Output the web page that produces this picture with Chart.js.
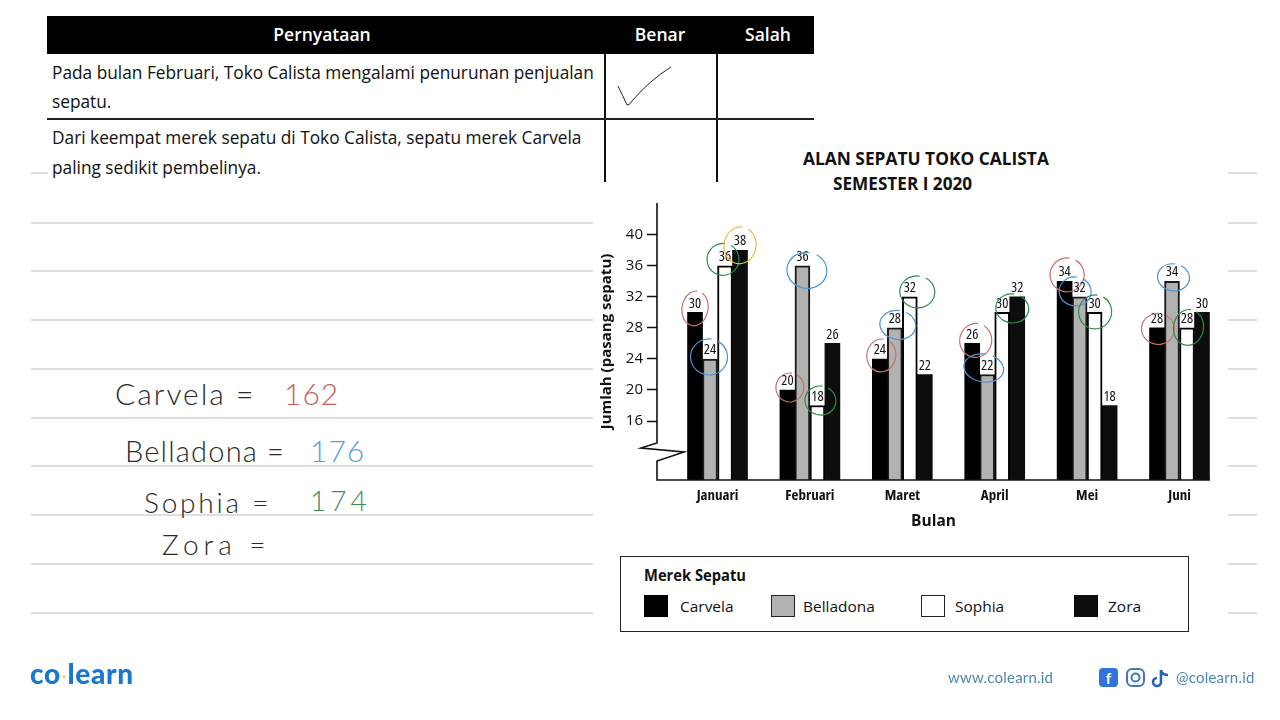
<!DOCTYPE html>
<html lang="id">
<head>
<meta charset="utf-8">
<title>Penjualan Sepatu Toko Calista</title>
<script src="https://cdn.jsdelivr.net/npm/chart.js@4"></script>
<style>
  html, body { margin: 0; padding: 0; background: #fff; }
  #page { position: relative; width: 1280px; height: 720px; overflow: hidden; font-family: "Open Sans", sans-serif; color: #111; }
  #page > canvas { position: absolute; left: 0; top: 0; }
  .t { position: absolute; white-space: nowrap; line-height: 1; }
  .rule { position: absolute; height: 1.5px; background: #dedede; }
  .hand { font-family: "Lato", sans-serif; font-weight: 300; color: #2a2a2a; }
  .body { font-size: 18px; transform-origin: left center; transform: scaleX(.96); }
  .head { color: #fff; font-weight: 600; font-size: 17.5px; transform: translateX(-50%); }
  .swatch { position: absolute; box-sizing: border-box; width: 24px; height: 22px; }
  #legendBox { position: absolute; left: 620px; top: 556px; width: 569px; height: 76px; box-sizing: border-box; border: 1.5px solid #222; }
</style>
</head>
<body>
<div id="page">
  <!-- lembar soal -->
  <div style="position:absolute;left:47px;top:16px;width:767px;height:38px;background:#000"></div>
  <div style="position:absolute;left:604px;top:54px;width:2px;height:128px;background:#111"></div>
  <div style="position:absolute;left:716px;top:54px;width:2px;height:128px;background:#111"></div>
  <div style="position:absolute;left:47px;top:118px;width:767px;height:2px;background:#222"></div>
  <div class="t head" style="left:322px;top:26px">Pernyataan</div>
  <div class="t head" style="left:660px;top:26px">Benar</div>
  <div class="t head" style="left:768px;top:26px">Salah</div>
  <div class="t body" style="left:52px;top:63px">Pada bulan Februari, Toko Calista mengalami penurunan penjualan</div>
  <div class="t body" style="left:52px;top:92px">sepatu.</div>
  <div class="t body" style="left:52px;top:128px">Dari keempat merek sepatu di Toko Calista, sepatu merek Carvela</div>
  <div class="t body" style="left:52px;top:158px">paling sedikit pembelinya.</div>
  <svg style="position:absolute;left:0;top:0" width="1280" height="720" fill="none">
    <path d="M618 86 Q623 96 627 105 Q629 106 632 101 Q650 80 671 67" stroke="#222" stroke-width="1"/>
  </svg>

  <div id="rules"></div>

  <!-- catatan tangan -->
  <div class="t hand" style="left:115px;top:378px;font-size:30px;letter-spacing:2px">Carvela =</div>
  <div class="t hand" style="left:284px;top:378px;font-size:30px;letter-spacing:1px;color:#c0615c">162</div>
  <div class="t hand" style="left:125px;top:436px;font-size:29px;letter-spacing:1.2px">Belladona =</div>
  <div class="t hand" style="left:310px;top:435px;font-size:30px;letter-spacing:1px;color:#5b9ed1">176</div>
  <div class="t hand" style="left:144px;top:488px;font-size:28px;letter-spacing:2.8px">Sophia =</div>
  <div class="t hand" style="left:310px;top:486px;font-size:28px;letter-spacing:4px;color:#3f8c55">174</div>
  <div class="t hand" style="left:162px;top:530px;font-size:28px;letter-spacing:5px">Zora =</div>

  <!-- judul grafik -->
  <div class="t" style="left:803px;top:150px;font-size:17px;font-weight:700;transform:scaleX(1.02);transform-origin:left">ALAN SEPATU TOKO CALISTA</div>
  <div class="t" style="left:833px;top:175px;font-size:17px;font-weight:700;transform:scaleX(1.01);transform-origin:left">SEMESTER I 2020</div>

  <!-- legenda -->
  <div id="legendBox"></div>
  <div class="t" style="left:644px;top:568px;font-size:15.5px;font-weight:700;transform:scaleX(.95);transform-origin:left">Merek Sepatu</div>
  <div id="legendItems"></div>

  <canvas id="chart" width="1280" height="720"></canvas>

  <!-- kaki halaman -->
  <div class="t" style="left:30px;top:659px;font-family:Lato,sans-serif;font-weight:900;font-size:28px;letter-spacing:.7px;color:#1877d2">co<span style="color:#bcd98a;font-size:14px;vertical-align:3px;margin:0 1px">&#183;</span>learn</div>
  <div class="t" style="left:948px;top:670px;font-family:Lato,sans-serif;font-size:15px;letter-spacing:.2px;color:#4c86b8">www.colearn.id</div>
  <svg style="position:absolute;left:1098px;top:667px" width="74" height="22" fill="none">
    <rect x="1" y="1" width="19" height="19" rx="4" fill="#2f74d8"/>
    <text x="10.5" y="17" fill="#fff" font-family="Lato" font-weight="700" font-size="16" text-anchor="middle">f</text>
    <rect x="29" y="2" width="17" height="17" rx="5" stroke="#3c79c0" stroke-width="2"/>
    <circle cx="37.5" cy="10.5" r="4" stroke="#3c79c0" stroke-width="2"/>
    <path d="M63 3 V15 A4 4 0 1 1 59 11 M63 3 Q64 8 70 8" stroke="#2563b8" stroke-width="2.6"/>
  </svg>
  <div class="t" style="left:1176px;top:670px;font-family:Lato,sans-serif;font-size:15px;letter-spacing:.2px;color:#4c86b8">@colearn.id</div>
</div>

<script>
  const months = ['Januari', 'Februari', 'Maret', 'April', 'Mei', 'Juni'];
  const yTicks = [16, 20, 24, 28, 32, 36, 40];
  const brands = ['Carvela', 'Belladona', 'Sophia', 'Zora'];

  const carvela = [30, 20, 24, 26, 34, 28];
  const belladona = [24, 36, 28, 22, 32, 34];
  const sophia = [36, 18, 32, 30, 30, 28];
  const zora = [38, 26, 22, 32, 18, 30];

  const fillColors = ['#000000', '#b2b2b2', '#ffffff', '#0d0d0d'];
  const edgeColors = ['#000000', '#1a1a1a', '#000000', '#0d0d0d'];

  // handwritten rings: colour per brand, then dx, dy, rx, ry from the top of each bar
  const ringColors = ['#c9706c', '#4f93cf', '#2f8a4a', '#e2c23a'];
  const carvelaRings = [[0, -4, 13, 17.5], [2.5, -2.5, 14, 14.5], [1.5, -3.5, 14.5, 16.5], [3.5, -3, 16, 17], [2.5, -6.5, 17, 17], [1, 1, 16.5, 15.5]];
  const belladonaRings = [[-1, -2, 18.5, 18], [4.5, 4.5, 20, 18], [3, -3, 18, 14.5], [-3.5, -6.5, 20, 14], [-4.5, -5.5, 16, 14.5], [1.5, -4, 16, 13.5]];
  const sophiaRings = [[-2, -6.5, 16, 16], [3, -5, 15.5, 14.5], [7.5, -5, 17.5, 16], [10, -4, 16.5, 14.5], [0.5, -0.5, 16.5, 17], [1.5, -0.5, 15, 18]];
  const zoraRings = [[0, -5, 16, 18.5], null, null, null, null, null];

  const seriesValues = [carvela, belladona, sophia, zora];
  const seriesRings = [carvelaRings, belladonaRings, sophiaRings, zoraRings];

  // notebook lines behind the sheet
  const ruleRows = [222, 270, 319, 368, 417, 465, 514, 563, 612];
  const stubRows = [172, 222, 270, 319, 368, 417, 465, 514, 563, 612];
  const rules = document.getElementById('rules');
  rules.innerHTML =
    ruleRows.map(y => `<div class="rule" style="left:31px;top:${y}px;width:562px"></div>`).join('') +
    `<div class="rule" style="left:31px;top:172px;width:17px"></div>` +
    stubRows.map(y => `<div class="rule" style="left:1228px;top:${y}px;width:29px"></div>`).join('');

  // legend
  const legendLeft = [644, 771, 921, 1074];
  const legendText = [680, 803, 955, 1108];
  document.getElementById('legendItems').innerHTML = brands.map((b, i) => `
    <div class="swatch" style="left:${legendLeft[i]}px;top:595px;background:${fillColors[i]};border:${i === 0 || i === 3 ? 0 : 1.5}px solid #222"></div>
    <div class="t" style="left:${legendText[i]}px;top:599px;font-size:15px;transform:scaleX(1.03);transform-origin:left">${b}</div>
  `).join('');

  // axis line with the break near the bottom, value labels and the rings
  const sheetMarks = {
    id: 'sheetMarks',
    afterDatasetsDraw(chart) {
      const { ctx, chartArea } = chart;
      const l = chartArea.left, b = chartArea.bottom;

      ctx.save();
      ctx.strokeStyle = '#111';
      ctx.lineWidth = 1.6;
      ctx.beginPath();
      ctx.moveTo(l, chartArea.top);
      ctx.lineTo(l, b - 37);
      ctx.lineTo(l - 16, b - 32);
      ctx.lineTo(l + 27, b - 28);
      ctx.lineTo(l, b - 19);
      ctx.lineTo(l, b);
      ctx.lineTo(chartArea.right, b);
      ctx.stroke();

      ctx.font = 'condensed 14.5px "Open Sans", sans-serif';
      ctx.textAlign = 'center';
      ctx.textBaseline = 'middle';
      seriesValues.forEach((values, s) => {
        const meta = chart.getDatasetMeta(s);
        values.forEach((v, m) => {
          const bar = meta.data[m];
          ctx.fillStyle = '#111';
          ctx.fillText(String(v), bar.x, bar.y - 9);

          const ring = seriesRings[s][m];
          if (!ring) return;
          ctx.strokeStyle = ringColors[s];
          ctx.lineWidth = 1.2;
          ctx.beginPath();
          ctx.ellipse(bar.x + ring[0], bar.y + ring[1], ring[2], ring[3], 0.15, -1.2, 4.7);
          ctx.stroke();
        });
      });
      ctx.restore();
    }
  };

  new Chart(document.getElementById('chart').getContext('2d'), {
    type: 'bar',
    data: {
      datasets: brands.map((b, s) => ({
        label: b,
        data: seriesValues[s].map((v, m) => ({ x: m, y: v })),
        backgroundColor: fillColors[s],
        borderColor: edgeColors[s],
        borderWidth: s === 1 || s === 2 ? 2 : 0,
        barThickness: 15
      }))
    },
    options: {
      responsive: false,
      animation: false,
      layout: { padding: { left: 598, right: 70, top: 203, bottom: 189 } },
      plugins: {
        legend: { display: false },
        title: { display: false },
        tooltip: { enabled: false }
      },
      scales: {
        x: {
          type: 'linear',
          offset: false,
          min: -0.655,
          max: 5.33,
          afterBuildTicks(scale) { scale.ticks = months.map((_, i) => ({ value: i })); },
          afterFit(scale) { scale.height = 51; },
          border: { display: false },
          grid: { display: false, drawTicks: false, offset: false },
          ticks: {
            autoSkip: false,
            maxRotation: 0,
            padding: 7,
            color: '#111',
            // style is validated by Chart.js, weight is not, so the stretch keyword goes here
            font: { family: '"Open Sans"', size: 15, weight: 'condensed bold' },
            callback: v => months[v]
          },
          title: {
            display: true,
            text: 'Bulan',
            color: '#111',
            padding: { top: 6, bottom: 0 },
            font: { family: 'Open Sans', size: 15.5, weight: 'bold' }
          }
        },
        y: {
          min: 8.4,
          max: 44.1,
          afterBuildTicks(scale) { scale.ticks = yTicks.map(v => ({ value: v })); },
          afterFit(scale) { scale.width = 59; },
          border: { display: false },
          grid: { drawOnChartArea: false, drawTicks: true, tickLength: 10, tickColor: '#111', tickWidth: 1.5 },
          ticks: {
            padding: 4,
            color: '#111',
            font: { family: 'Open Sans', size: 15 }
          },
          title: {
            display: true,
            text: 'Jumlah (pasang sepatu)',
            color: '#111',
            padding: { top: 0, bottom: 0 },
            font: { family: 'Open Sans', size: 15, weight: 'bold' }
          }
        }
      }
    },
    plugins: [sheetMarks]
  });
</script>
</body>
</html>
